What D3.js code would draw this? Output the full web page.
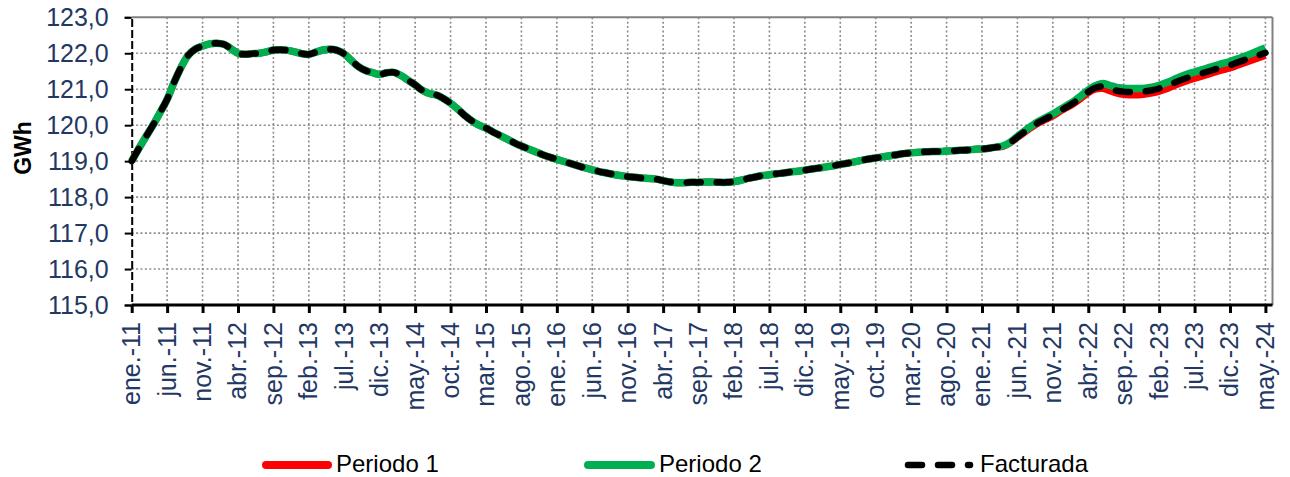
<!DOCTYPE html>
<html><head><meta charset="utf-8">
<script src="https://cdn.jsdelivr.net/npm/d3@7"></script>
<style>
body{margin:0;background:#fff}
svg{display:block;font-family:"Liberation Sans",Arial,sans-serif}
</style>
</head><body>
<svg id="c" width="1290" height="477"></svg>
<script>
// ---- DATA ----
const tickLabels = ["ene.-11","jun.-11","nov.-11","abr.-12","sep.-12","feb.-13","jul.-13","dic.-13","may.-14","oct.-14","mar.-15","ago.-15","ene.-16","jun.-16","nov.-16","abr.-17","sep.-17","feb.-18","jul.-18","dic.-18","may.-19","oct.-19","mar.-20","ago.-20","ene.-21","jun.-21","nov.-21","abr.-22","sep.-22","feb.-23","jul.-23","dic.-23","may.-24"];
const yTicks = [115,116,117,118,119,120,121,122,123];
const seriesNames = ["Periodo 1","Periodo 2","Facturada"];

const facturada = [
119.00,119.35,119.68,120.00,120.35,120.72,121.20,121.62,121.95,122.12,122.20,122.26,
122.28,122.25,122.13,122.00,121.97,121.99,122.00,122.04,122.09,122.10,122.08,122.04,
121.99,121.97,122.03,122.09,122.11,122.08,121.98,121.80,121.63,121.52,121.46,121.41,
121.46,121.47,121.38,121.25,121.12,120.97,120.88,120.84,120.74,120.61,120.45,120.27,
120.12,120.00,119.92,119.81,119.71,119.61,119.51,119.42,119.34,119.26,119.18,119.11,
119.05,118.99,118.93,118.87,118.81,118.76,118.71,118.67,118.63,118.60,118.57,118.55,
118.53,118.52,118.50,118.46,118.42,118.40,118.40,118.41,118.41,118.42,118.42,118.41,
118.41,118.43,118.47,118.52,118.56,118.60,118.62,118.65,118.67,118.70,118.72,118.75,
118.78,118.81,118.84,118.87,118.91,118.94,118.98,119.02,119.06,119.09,119.12,119.15,
119.18,119.21,119.23,119.25,119.26,119.27,119.27,119.28,119.29,119.30,119.31,119.33,
119.34,119.36,119.39,119.42,119.52,119.67,119.82,119.96,120.08,120.18,120.28,120.40,
120.51,120.63,120.78,120.93,121.04,121.08,121.02,120.96,120.93,120.92,120.92,120.94,
120.97,121.02,121.09,121.17,121.25,121.32,121.38,121.44,121.50,121.56,121.62,121.67,
121.74,121.81,121.88,121.94,122.01];

const periodo2 = [
119.00,119.35,119.68,120.00,120.35,120.72,121.20,121.62,121.95,122.12,122.20,122.26,
122.28,122.25,122.13,122.00,121.97,121.99,122.00,122.04,122.09,122.10,122.08,122.04,
121.99,121.97,122.03,122.09,122.11,122.08,121.98,121.80,121.63,121.52,121.46,121.41,
121.46,121.47,121.38,121.25,121.12,120.97,120.88,120.84,120.74,120.61,120.45,120.27,
120.12,120.00,119.92,119.81,119.71,119.61,119.51,119.42,119.34,119.26,119.18,119.11,
119.05,118.99,118.93,118.87,118.81,118.76,118.71,118.67,118.63,118.60,118.57,118.55,
118.53,118.52,118.50,118.46,118.42,118.40,118.40,118.41,118.41,118.42,118.42,118.41,
118.41,118.43,118.47,118.52,118.56,118.60,118.62,118.65,118.67,118.70,118.72,118.75,
118.78,118.81,118.84,118.87,118.91,118.94,118.98,119.02,119.06,119.09,119.12,119.15,
119.18,119.21,119.23,119.25,119.26,119.27,119.27,119.28,119.29,119.30,119.31,119.33,
119.34,119.36,119.39,119.43,119.53,119.69,119.84,119.98,120.11,120.21,120.31,120.43,
120.55,120.67,120.82,120.98,121.10,121.16,121.11,121.05,121.03,121.02,121.02,121.03,
121.06,121.11,121.18,121.26,121.35,121.42,121.48,121.54,121.60,121.66,121.72,121.77,
121.84,121.91,121.99,122.07,122.15];

const periodo1 = [
119.00,119.35,119.68,120.00,120.35,120.72,121.20,121.62,121.95,122.12,122.20,122.26,
122.28,122.25,122.13,122.00,121.97,121.99,122.00,122.04,122.09,122.10,122.08,122.04,
121.99,121.97,122.03,122.09,122.11,122.08,121.98,121.80,121.63,121.52,121.46,121.41,
121.46,121.47,121.38,121.25,121.12,120.97,120.88,120.84,120.74,120.61,120.45,120.27,
120.12,120.00,119.92,119.81,119.71,119.61,119.51,119.42,119.34,119.26,119.18,119.11,
119.05,118.99,118.93,118.87,118.81,118.76,118.71,118.67,118.63,118.60,118.57,118.55,
118.53,118.52,118.50,118.46,118.42,118.40,118.40,118.41,118.41,118.42,118.42,118.41,
118.41,118.43,118.47,118.52,118.56,118.60,118.62,118.65,118.67,118.70,118.72,118.75,
118.78,118.81,118.84,118.87,118.91,118.94,118.98,119.02,119.06,119.09,119.12,119.15,
119.18,119.21,119.23,119.25,119.26,119.27,119.27,119.28,119.29,119.30,119.31,119.33,
119.34,119.36,119.39,119.41,119.51,119.66,119.80,119.94,120.06,120.16,120.26,120.38,
120.49,120.61,120.75,120.90,121.00,121.02,120.96,120.89,120.85,120.84,120.84,120.86,
120.89,120.94,121.01,121.09,121.17,121.24,121.30,121.36,121.42,121.48,121.54,121.59,
121.66,121.73,121.80,121.87,121.94];

// ---- CHART ----
const svg = d3.select('#c');
const L = 131.7, R = 1272.5, T = 17.3, B = 305;
const x = d3.scaleLinear().domain([0, 161]).range([L, R]);
const y = d3.scaleLinear().domain([115, 123]).range([B, T]);
const tickIdx = tickLabels.map((d, i) => i * 5);
const navy = '#1f3864';
const gridColor = '#8c8c8c';
const FS = '25px';

// gridlines
const grid = svg.append('g');
grid.selectAll('line.h').data(yTicks.filter(v => v > 115 && v < 123)).join('line')
  .attr('x1', L).attr('x2', R).attr('y1', d => y(d)).attr('y2', d => y(d))
  .attr('stroke', gridColor).attr('stroke-width', 1.6).attr('stroke-dasharray', '2,2.4');
grid.selectAll('line.v').data(tickIdx.filter(i => i > 0)).join('line')
  .attr('x1', d => x(d)).attr('x2', d => x(d)).attr('y1', T).attr('y2', B)
  .attr('stroke', gridColor).attr('stroke-width', 1.6).attr('stroke-dasharray', '2,2.4');

// top & right borders
svg.append('line').attr('x1', L).attr('x2', R).attr('y1', T).attr('y2', T)
  .attr('stroke', '#808080').attr('stroke-width', 2);
svg.append('line').attr('x1', R).attr('x2', R).attr('y1', T).attr('y2', B)
  .attr('stroke', '#808080').attr('stroke-width', 2);

// y axis
const yAxis = svg.append('g').attr('transform', `translate(${L},0)`)
  .call(d3.axisLeft(y).tickValues(yTicks).tickSize(7).tickPadding(16)
    .tickFormat(d => d.toFixed(1).replace('.', ',')));
yAxis.select('.domain').attr('stroke', '#000').attr('stroke-width', 2).attr('stroke-dasharray', '8,3');
yAxis.selectAll('.tick line').attr('stroke', '#000').attr('stroke-width', 2);
yAxis.selectAll('.tick text').attr('fill', navy).style('font-size', FS)
  .style('font-family', '"Liberation Sans",Arial,sans-serif');

// x axis
const xAxis = svg.append('g').attr('transform', `translate(0,${B})`)
  .call(d3.axisBottom(x).tickValues(tickIdx).tickSize(8)
    .tickFormat((d, i) => tickLabels[i]));
xAxis.select('.domain').attr('stroke', '#000').attr('stroke-width', 3)
  .attr('d', `M${L},0H${R}`);
xAxis.selectAll('.tick line').attr('stroke', '#000').attr('stroke-width', 3);
xAxis.selectAll('.tick text').attr('fill', navy).style('font-size', FS)
  .style('font-family', '"Liberation Sans",Arial,sans-serif')
  .attr('transform', 'rotate(-90)').attr('x', -17).attr('y', 0).attr('dy', '0.32em')
  .style('text-anchor', 'end');

// y title
svg.append('text').attr('transform', 'translate(31,148) rotate(-90)')
  .attr('text-anchor', 'middle').style('font-size', '23px').style('font-weight', 'bold')
  .attr('fill', '#000').text('GWh');

// lines
const line = d3.line().x((d, i) => x(i)).y(d => y(d)).curve(d3.curveCatmullRom.alpha(0.5));
svg.append('path').datum(periodo1).attr('d', line).attr('fill', 'none')
  .attr('stroke', '#ff0000').attr('stroke-width', 7).attr('stroke-linejoin', 'round');
svg.append('path').datum(periodo2).attr('d', line).attr('fill', 'none')
  .attr('stroke', '#00b050').attr('stroke-width', 7.5).attr('stroke-linejoin', 'round');
svg.append('path').datum(facturada).attr('d', line).attr('fill', 'none')
  .attr('stroke', '#000').attr('stroke-width', 6.5).attr('stroke-linecap', 'round')
  .attr('stroke-dasharray', '14,16');

// legend
const legend = [
  {name: seriesNames[0], x1: 266, x2: 328, tx: 336, color: '#ff0000', dash: null},
  {name: seriesNames[1], x1: 588, x2: 651, tx: 659, color: '#00b050', dash: null},
  {name: seriesNames[2], x1: 908, x2: 970, tx: 980, color: '#000', dash: '14,16'}
];
const lg = svg.append('g');
legend.forEach(d => {
  const l = lg.append('line').attr('x1', d.x1).attr('x2', d.x2).attr('y1', 465).attr('y2', 465)
    .attr('stroke', d.color).attr('stroke-width', d.dash ? 6.5 : 8).attr('stroke-linecap', 'round');
  if (d.dash) l.attr('stroke-dasharray', d.dash);
  lg.append('text').attr('x', d.tx).attr('y', 471.5).style('font-size', '24px')
    .attr('fill', '#000').text(d.name);
});
</script>
</body></html>
